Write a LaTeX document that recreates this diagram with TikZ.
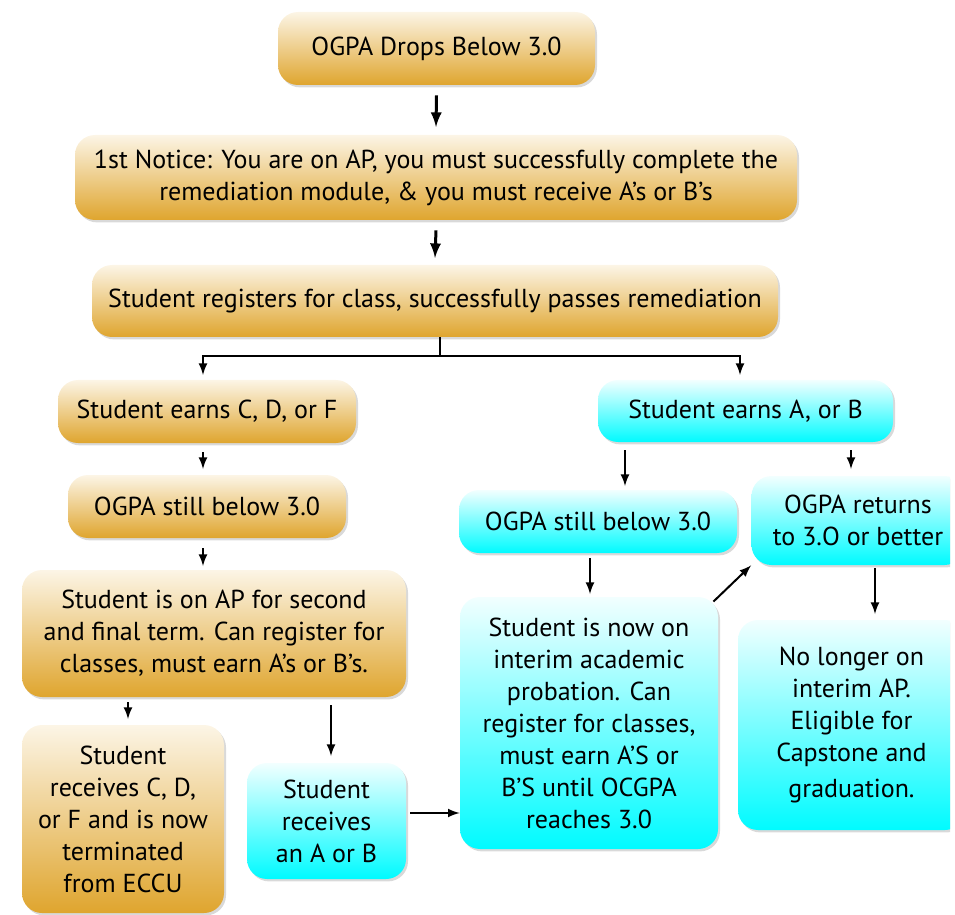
\documentclass[tikz,border=0pt]{standalone}
\usepackage{fontspec}
\setmainfont{PT Sans}
\usetikzlibrary{arrows,shadows}

\begin{document}
\begin{tikzpicture}[
  x=0.5pt, y=-0.5pt, >=latex, font=\fontsize{13}{16}\selectfont,
  gold box/.style={rounded corners=10pt, top color=gold top, bottom color=gold bottom,
    drop shadow={shadow xshift=1pt, shadow yshift=-1.2pt, opacity=.3},
    align=center, inner sep=2pt},
  cyan box/.style={gold box, top color=cyan top, bottom color=cyan bottom},
  edge/.style={draw, ->, line width=1pt},
  heavy edge/.style={draw, ->, line width=1.5pt}
]
\definecolor{gold top}{HTML}{FCF5E6}
\definecolor{gold bottom}{HTML}{DFA52E}
\definecolor{cyan top}{HTML}{F2FFFF}
\definecolor{cyan bottom}{HTML}{00FBFF}
\useasboundingbox (0,0) rectangle (955,915);

% left column
\node[gold box, minimum width=158.5pt, minimum height=36.5pt] (drop) at (436.5,48.5) {OGPA Drops Below 3.0};
\node[gold box, minimum width=361pt, minimum height=42.5pt] (notice) at (436,177.5)
  {1st Notice: You are on AP, you must successfully complete the\\remediation module, \& you must receive A’s or B’s};
\node[gold box, minimum width=343pt, minimum height=36pt] (register) at (435,301)
  {Student registers for class, successfully passes remediation};
\node[gold box, minimum width=149pt, minimum height=31.5pt] (cdf) at (207,411.5) {Student earns C, D, or F};
\node[gold box, minimum width=139pt, minimum height=31.5pt] (below) at (207,506.5) {OGPA still below 3.0};
\node[gold box, minimum width=192pt, minimum height=63.5pt] (second) at (214,633.5)
  {Student is on AP for second\\and final term. Can register for\\classes, must earn A’s or B’s.};
\node[gold box, minimum width=101pt, minimum height=94pt] (term) at (123,819)
  {Student\\receives C, D,\\or F and is now\\terminated\\from ECCU};
\node[cyan box, minimum width=79.5pt, minimum height=58pt] (getab) at (326.5,821)
  {Student\\receives\\an A or B};

% right column
\node[cyan box, minimum width=147.5pt, minimum height=31pt] (ab) at (745.5,411) {Student earns A, or B};
\node[cyan box, minimum width=139pt, minimum height=31.5pt] (cbelow) at (598,521.5) {OGPA still below 3.0};
\node[cyan box, minimum width=129pt, minimum height=126pt] (interim) at (589,723)
  {Student is now on\\interim academic\\probation. Can\\register for classes,\\must earn A’S or\\B’S until OCGPA\\reaches 3.0};
\begin{scope}
  \clip (0,0) rectangle (950,915);
  \node[cyan box, minimum width=106.5pt, minimum height=44.5pt] (returns) at (858,520.5)
    {OGPA returns\\to 3.O or better};
  \node[cyan box, minimum width=113.5pt, minimum height=105pt] (done) at (851.5,725)
    {No longer on\\interim AP.\\Eligible for\\Capstone and\\[2pt]graduation.};
\end{scope}

% connectors
\path[heavy edge] (drop.south) ++(0,10) -- (notice.north |- 0,127);
\path[heavy edge] (notice.south) ++(0,10) -- (register.north |- 0,258);
\draw[line width=1pt] ([xshift=2.5pt]register.south) -- ++(0,19) coordinate (split);
\path[edge] (split) -| (203,375);
\path[edge] (split) -| (740,375);
\path[edge] (203,452) -- (203,469);
\path[edge] (203,548) -- (203,566);
\path[edge] (128,702) -- (128,719);
\path[edge] (331,705) -- (331,756);
\path[edge] (getab.east |- 0,813) ++(4,0) -- (interim.west |- 0,813);
\path[edge] (625,450) -- (625,486);
\path[edge] (851,450) -- (851,469);
\path[edge] (590,558) -- (590,594);
\path[edge] (interim.north east) ++(-5,5) -- (returns.south west);
\path[edge] (875,568) -- (875,614);
\end{tikzpicture}
\end{document}
